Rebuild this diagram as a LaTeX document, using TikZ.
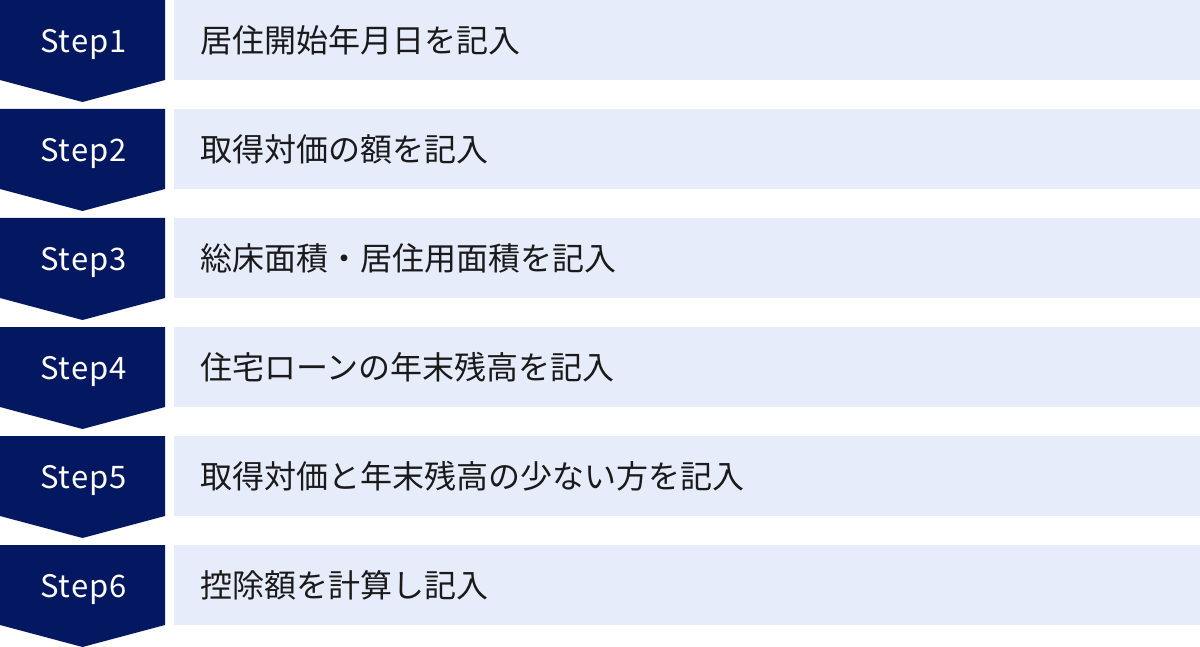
\documentclass[tikz,border=0pt]{standalone}
\usepackage{fontspec}
\setmainfont{Noto Sans}
\newfontfamily\jpfont{Noto Sans CJK JP}
\newfontfamily\stepfont[LetterSpace=3]{Noto Sans CJK JP}
\definecolor{stepnavy}{RGB}{4,24,98}
\definecolor{boxblue}{RGB}{230,236,250}
\definecolor{bodytext}{RGB}{26,26,26}

\begin{document}
\begin{tikzpicture}[x=1pt,y=-1pt,
	steplabel/.style={text=white,inner sep=0pt,anchor=base,font=\stepfont\fontsize{31}{36}\selectfont},
	stepbody/.style={text=bodytext,inner sep=0pt,anchor=base west,font=\jpfont\fontsize{32}{38}\selectfont}]
		\useasboundingbox (0,0) rectangle (1200,647);
		% Chevrons and text bars
		\foreach \n/\txt [count=\i from 0] in {1/居住開始年月日を記入,2/取得対価の額を記入,3/総床面積・居住用面積を記入,4/住宅ローンの年末残高を記入,5/取得対価と年末残高の少ない方を記入,6/控除額を計算し記入} {
			\pgfmathsetmacro\top{109*\i}
			\fill[stepnavy] (0,\top) -- ++(165,0) -- ++(0,80) -- ++(-82.5,22) -- ++(-82.5,-22) -- cycle;
			\fill[boxblue] (174,\top) rectangle (1200,\top+80);
			\node[steplabel] (step\n) at (83.5,\top+52.5) {Step\n};
			\node[stepbody] (text\n) at (200,\top+52.5) {\txt};
		}
	\end{tikzpicture}
\end{document}
